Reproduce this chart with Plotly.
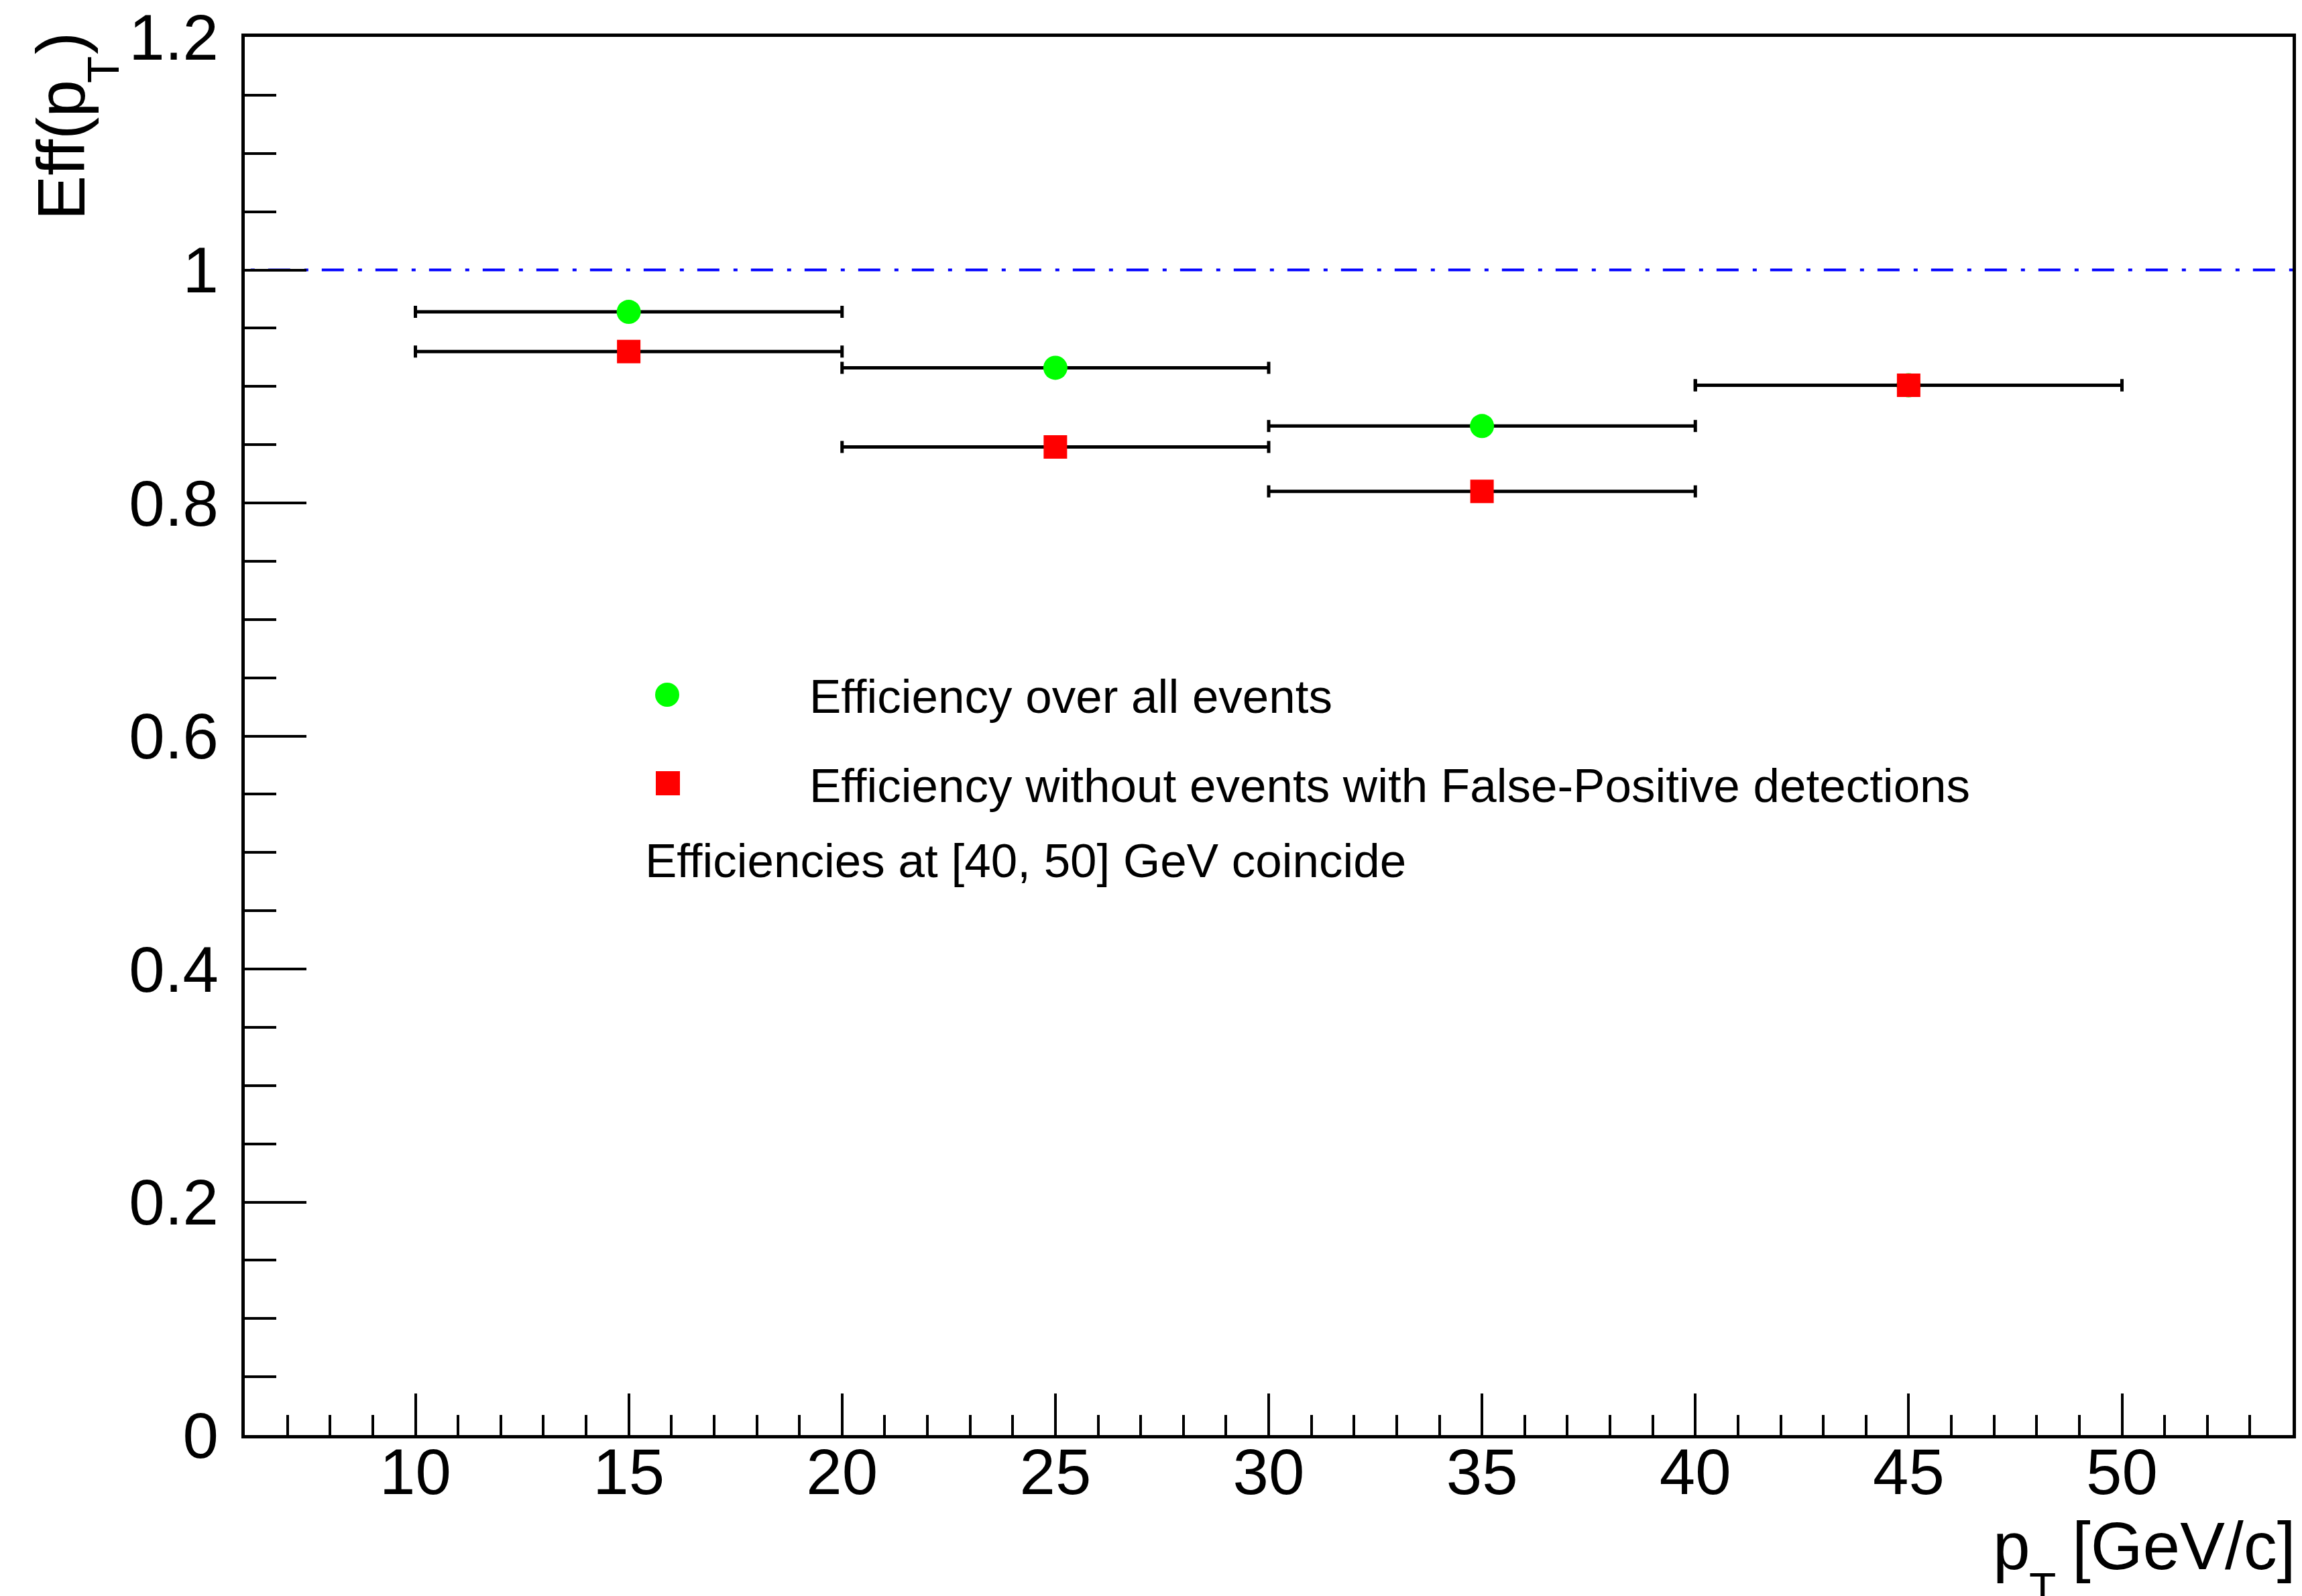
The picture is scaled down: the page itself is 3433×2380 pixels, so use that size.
import plotly.graph_objects as go

# ---- data ----
bin_centers = [15, 25, 35, 45]
bin_half_width = [5, 5, 5, 5]
eff_all = [0.964, 0.916, 0.866, 0.901]
eff_no_fp = [0.930, 0.848, 0.810, 0.901]
x_tick_vals = [10, 15, 20, 25, 30, 35, 40, 45, 50]
y_tick_vals = [0, 0.2, 0.4, 0.6, 0.8, 1.0, 1.2]
reference_level = 1.0
legend_all = "Efficiency over all events"
legend_no_fp = "Efficiency without events with False-Positive detections"
note_text = "Efficiencies at [40, 50] GeV coincide"

# ---- layout geometry (pixels) ----
WIDTH, HEIGHT = 3433, 2380
L, R, T, B = 357, 3411, 47, 2132
W, H = R - L, B - T
FONT = "Liberation Sans, Arial, Helvetica, sans-serif"


def px_x(p):
    return (p - L) / W


def px_y(p):
    return (B - p) / H


fig = go.Figure()

err_style = dict(type="data", symmetric=True, array=bin_half_width,
                 color="black", thickness=5, width=9)

fig.add_trace(go.Scatter(
    x=bin_centers, y=eff_all, mode="markers",
    marker=dict(symbol="circle", size=36, color="#00ff00", line=dict(width=0)),
    error_x=err_style, name=legend_all, showlegend=False))

fig.add_trace(go.Scatter(
    x=bin_centers, y=eff_no_fp, mode="markers",
    marker=dict(symbol="square", size=35, color="#ff0000", line=dict(width=0)),
    error_x=err_style, name=legend_no_fp, showlegend=False))

# reference line at efficiency = 1
fig.add_shape(type="line", xref="x", yref="y", x0=5.29, x1=54,
              y0=reference_level, y1=reference_level, layer="below",
              line=dict(color="#0000ff", width=4, dash="33px,21px,6px,20px"))

# custom legend symbols
fig.add_shape(type="circle", xref="paper", yref="paper",
              x0=px_x(987 - 18), x1=px_x(987 + 18),
              y0=px_y(1028 + 18), y1=px_y(1028 - 18),
              fillcolor="#00ff00", line=dict(width=0))
fig.add_shape(type="rect", xref="paper", yref="paper",
              x0=px_x(988 - 18), x1=px_x(988 + 18),
              y0=px_y(1160 + 18), y1=px_y(1160 - 18),
              fillcolor="#ff0000", line=dict(width=0))

ann = []


def add_text(text, x, y, size, xanchor="center", yanchor="middle", angle=0):
    ann.append(dict(text=text, x=px_x(x), y=px_y(y), xref="paper", yref="paper",
                    xanchor=xanchor, yanchor=yanchor, textangle=angle,
                    showarrow=False, borderpad=0, borderwidth=0,
                    font=dict(family=FONT, size=size, color="black")))


# legend texts
add_text(legend_all, 1199, 1030, 71, xanchor="left")
add_text(legend_no_fp, 1199, 1163, 71, xanchor="left")
add_text(note_text, 954, 1275, 71, xanchor="left")

# y axis title: Eff(p_T)
add_text("Eff(p", 82, 321, 100, yanchor="bottom", angle=-90)
add_text("T", 146, 96, 66, angle=-90)
add_text(")", 82, 57, 100, angle=-90)

# x axis title: p_T [GeV/c]
add_text("p", 2992, 2297, 100)
add_text("T", 3038, 2361, 66)
add_text("[GeV/c]", 3415, 2297, 100, xanchor="right")

fig.update_layout(
    width=WIDTH, height=HEIGHT,
    margin=dict(l=L, r=WIDTH - R, t=T, b=HEIGHT - B, pad=0, autoexpand=False),
    paper_bgcolor="white", plot_bgcolor="white",
    showlegend=False,
    annotations=ann,
    font=dict(family=FONT, color="black"),
)

axis_common = dict(showgrid=False, zeroline=False, showline=True, linecolor="black",
                   linewidth=5, mirror=True, ticks="inside", tickcolor="black",
                   tickwidth=4, ticklabeloverflow="allow", automargin=False,
                   tickfont=dict(family=FONT, size=96, color="black"))

fig.update_xaxes(range=[6, 54], tickvals=x_tick_vals, ticklen=62,
                 minor=dict(dtick=1, tick0=0, ticks="inside", ticklen=30,
                            tickwidth=4, tickcolor="black"),
                 ticklabelstandoff=-32, **axis_common)
fig.update_yaxes(range=[0, 1.2], tickvals=y_tick_vals, ticklen=92,
                 minor=dict(dtick=0.05, tick0=0, ticks="inside", ticklen=47,
                            tickwidth=4, tickcolor="black"),
                 ticklabelstandoff=15, **axis_common)

fig.write_html("out.html")
